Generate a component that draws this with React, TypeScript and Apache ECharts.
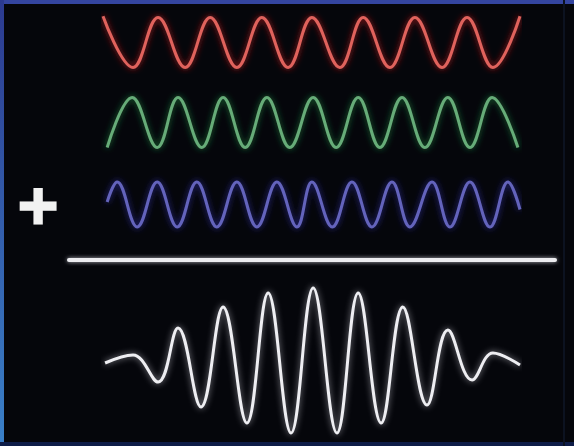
import React, { useEffect, useRef } from "react";
import * as echarts from "echarts";

// Time positions (0..100) and normalized amplitudes
const redT = [0, 7.2, 13.2, 19.7, 25.7, 32.1, 38.1, 44.4, 50.1, 56.8, 62.4, 68.8, 74.8, 81.3, 87.3, 93.5, 100];
const redV = [1.05, -1, 1, -1, 1, -1, 1, -1, 1, -1, 1, -1, 1, -1, 1, -1, 1.05];

const greenT = [1.0, 7.0, 13.0, 18.0, 23.7, 28.8, 34.1, 39.3, 44.8, 50.4, 55.9, 61.2, 66.4, 71.7, 77.2, 82.7, 88.0, 93.3, 99.5];
const greenV = [-1, 1, -1, 1, -1, 1, -1, 1, -1, 1, -1, 1, -1, 1, -1, 1, -1, 1, -1];

const blueT = [1.0, 3.4, 8.2, 13.0, 17.8, 22.5, 27.3, 32.1, 36.9, 41.7, 46.5, 50.1, 55.0, 59.7, 64.5, 69.3, 73.6, 78.9, 83.2, 88.0, 92.8, 97.1, 100];
const blueV = [0.1, 0.9, -0.9, 0.9, -0.9, 0.9, -0.9, 0.9, -0.9, 0.9, -0.9, 0.9, -0.9, 0.9, -0.9, 0.9, -0.9, 0.9, -0.9, 0.9, -0.9, 0.9, -0.2];

const sumT = [0.5, 7.2, 13.2, 18.0, 23.5, 28.8, 34.5, 39.6, 45.1, 50.4, 56.1, 61.2, 66.7, 71.9, 77.7, 82.7, 88.5, 93.5, 100];
const sumV = [-0.12, 0.2, -0.88, 1.28, -1.88, 2.12, -2.52, 2.68, -2.92, 2.88, -2.92, 2.68, -2.52, 2.12, -1.8, 1.2, -0.8, 0.28, -0.2];

const zip = (t: number[], v: number[]) => t.map((x, i) => [x, v[i]]);

export default function App() {
  const ref = useRef<HTMLDivElement>(null);
  useEffect(() => {
    const chart = echarts.init(ref.current!, undefined, { renderer: "svg" });
    const grids = [
      { left: 103, right: 54, top: 12.5, height: 60 },
      { left: 103, right: 54, top: 92.5, height: 60 },
      { left: 103, right: 54, top: 174.5, height: 60 },
      { left: 103, right: 54, top: 280, height: 160 },
    ];
    const yr = [1.2, 1.2, 1.2, 3.2];
    const waves = [
      { d: zip(redT, redV), c: "#e0625c", g: "rgba(200,30,30,0.9)" },
      { d: zip(greenT, greenV), c: "#66ac78", g: "rgba(30,130,60,0.9)" },
      { d: zip(blueT, blueV), c: "#6464bc", g: "rgba(50,50,170,0.9)" },
      { d: zip(sumT, sumV), c: "#eeeef2", g: "rgba(200,200,210,0.7)" },
    ];
    chart.setOption({
      animation: false,
      backgroundColor: "#05060b",
      grid: grids,
      xAxis: grids.map((_, i) => ({ type: "value", gridIndex: i, min: 0, max: 100, show: false })),
      yAxis: grids.map((_, i) => ({ type: "value", gridIndex: i, min: -yr[i], max: yr[i], show: false })),
      series: waves.map((w, i) => ({
        type: "line",
        xAxisIndex: i,
        yAxisIndex: i,
        data: w.d,
        smooth: 0.4,
        showSymbol: false,
        silent: true,
        lineStyle: { color: w.c, width: 3, shadowBlur: 6, shadowColor: w.g },
      })),
      graphic: [
        { type: "rect", shape: { x: 0, y: 0, width: 574, height: 4 }, style: { fill: "#3445a0" } },
        {
          type: "rect",
          shape: { x: 0, y: 0, width: 4, height: 446 },
          style: {
            fill: new echarts.graphic.LinearGradient(0, 0, 0, 1, [
              { offset: 0, color: "#2c3a90" },
              { offset: 1, color: "#3a80c8" },
            ]),
          },
        },
        { type: "rect", shape: { x: 0, y: 442, width: 574, height: 4 }, style: { fill: "#0e1c48" } },
        { type: "rect", shape: { x: 563, y: 0, width: 2, height: 446 }, style: { fill: "#0c1220" } },
        {
          type: "rect",
          shape: { x: 67, y: 258, width: 490, height: 4, r: 2 },
          style: { fill: "#ececf0", shadowBlur: 4, shadowColor: "rgba(220,220,230,0.8)" },
        },
        {
          type: "text",
          x: 38,
          y: 204,
          style: {
            text: "+",
            fill: "#f2f2f2",
            stroke: "#f2f2f2",
            lineWidth: 3,
            font: "bold 54px 'DejaVu Sans'",
            textAlign: "center",
            textVerticalAlign: "middle",
          },
        },
      ],
    });
    return () => chart.dispose();
  }, []);
  return <div ref={ref} style={{ position: "absolute", left: 0, top: 0, width: 574, height: 446 }} />;
}
